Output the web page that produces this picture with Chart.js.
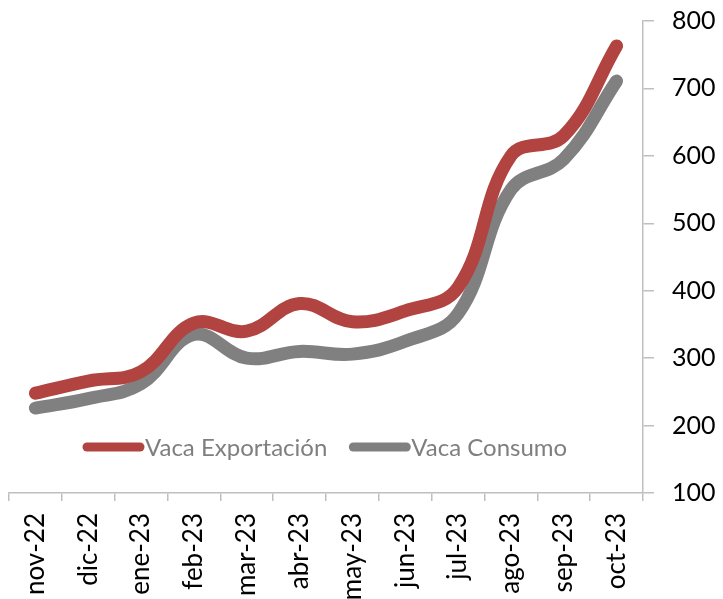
<!DOCTYPE html>
<html>
<head>
<meta charset="utf-8">
<script src="https://cdn.jsdelivr.net/npm/chart.js@4"></script>
<style>
  html, body { margin: 0; padding: 0; background: #fff; }
  #wrap { width: 723px; height: 599px; }
</style>
</head>
<body>
<div id="wrap"><canvas id="chart" width="723" height="599"></canvas></div>
<script>
// months on the x axis
const months = ["nov-22", "dic-22", "ene-23", "feb-23", "mar-23", "abr-23",
                "may-23", "jun-23", "jul-23", "ago-23", "sep-23", "oct-23"];
// series values
const vacaExportacion = [248, 266, 280, 352, 340, 381, 354, 370, 405, 600, 630, 763];
const vacaConsumo     = [226, 240, 262, 335, 300, 310, 306, 325, 366, 550, 595, 711];
// y axis range
const yTicks = [100, 200, 300, 400, 500, 600, 700, 800];

const RED = "#B14441";
const GREY = "#808080";
const AXIS = "#BFBFBF";
const FONT = "Lato, 'Liberation Sans', sans-serif";

// legend drawn inside the plot area, like the original
const insideLegend = {
  id: "insideLegend",
  afterDatasetsDraw(chart) {
    const ctx = chart.ctx;
    const area = chart.chartArea;
    const y = area.bottom - 46;
    let x = area.left + 78;
    ctx.save();
    ctx.font = "24px " + FONT;
    ctx.textBaseline = "middle";
    chart.data.datasets.forEach((ds, i) => {
      ctx.strokeStyle = ds.borderColor;
      ctx.lineWidth = 9;
      ctx.lineCap = "round";
      ctx.beginPath();
      ctx.moveTo(x, y);
      ctx.lineTo(x + 53, y);
      ctx.stroke();
      x += 58;
      ctx.fillStyle = "#7F7F7F";
      ctx.fillText(ds.label, x, y + 1);
      x += ctx.measureText(ds.label).width + 26;
    });
    ctx.restore();
  }
};

new Chart(document.getElementById("chart"), {
  type: "line",
  data: {
    labels: months,
    datasets: [
      {
        label: "Vaca Exportación",
        data: vacaExportacion,
        borderColor: RED,
        backgroundColor: RED,
        borderWidth: 13,
        borderCapStyle: "round",
        borderJoinStyle: "round",
        pointRadius: 0,
        tension: 0.4,
      },
      {
        label: "Vaca Consumo",
        data: vacaConsumo,
        borderColor: GREY,
        backgroundColor: GREY,
        borderWidth: 13,
        borderCapStyle: "round",
        borderJoinStyle: "round",
        pointRadius: 0,
        tension: 0.4,
      },
    ],
  },
  options: {
    responsive: false,
    animation: false,
    layout: { padding: { top: 21, left: 9, right: 0, bottom: 0 } },
    plugins: {
      legend: { display: false },
      tooltip: { enabled: false },
    },
    scales: {
      x: {
        offset: true,
        grid: {
          offset: true,
          drawOnChartArea: false,
          drawTicks: true,
          tickLength: 8,
          color: AXIS,
          lineWidth: 1.5,
        },
        border: { display: true, color: AXIS, width: 1.5 },
        ticks: {
          autoSkip: false,
          minRotation: 90,
          maxRotation: 90,
          padding: 12,
          color: "#000",
          font: { family: FONT, size: 26 },
        },
        afterFit(scale) {
          scale.height = 106;
          scale.paddingLeft = 0;
          scale.paddingRight = 0;
        },
      },
      y: {
        position: "right",
        min: yTicks[0],
        max: yTicks[yTicks.length - 1],
        afterBuildTicks(scale) { scale.ticks = yTicks.map(v => ({ value: v })); },
        grid: {
          drawOnChartArea: false,
          drawTicks: true,
          tickLength: 11,
          color: AXIS,
          lineWidth: 1.5,
        },
        border: { display: true, color: AXIS, width: 1.5 },
        ticks: {
          padding: 18,
          color: "#000",
          font: { family: FONT, size: 25 },
        },
        afterFit(scale) {
          scale.width = 80;
          scale.paddingTop = 0;
          scale.paddingBottom = 0;
        },
      },
    },
  },
  plugins: [insideLegend],
});
</script>
</body>
</html>
